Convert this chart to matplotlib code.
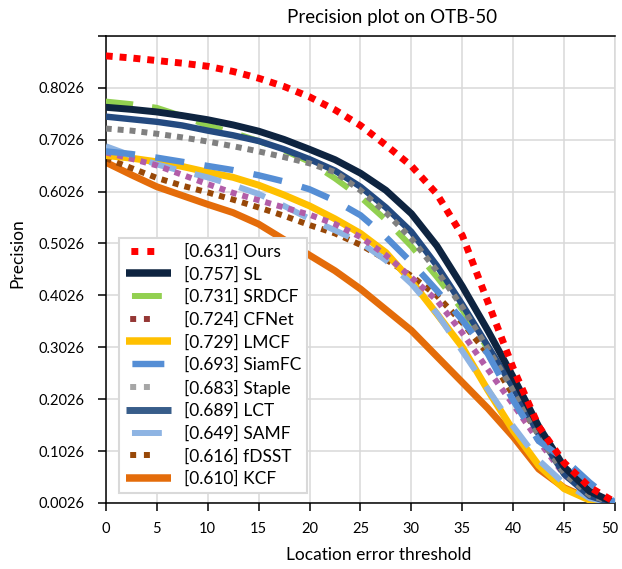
import matplotlib
matplotlib.use("Agg")
import matplotlib.pyplot as plt
from matplotlib.lines import Line2D
from matplotlib.transforms import ScaledTranslation
import numpy as np

plt.rcParams['font.family'] = ['Lato', 'DejaVu Sans']

# location error threshold
thresholds = [0, 2.5, 5, 7.5, 10, 12.5, 15, 17.5, 20, 22.5, 25,
              27.5, 30, 32.5, 35, 37.5, 40, 42.5, 45, 47.5, 50]

# precision values
ours   = [0.864, 0.860, 0.855, 0.850, 0.844, 0.834, 0.821, 0.805, 0.785, 0.760, 0.730,
          0.692, 0.652, 0.598, 0.518, 0.390, 0.262, 0.150, 0.080, 0.033, 0.004]
sl     = [0.765, 0.761, 0.756, 0.749, 0.741, 0.731, 0.719, 0.703, 0.684, 0.664, 0.638,
          0.605, 0.560, 0.498, 0.420, 0.335, 0.245, 0.150, 0.072, 0.025, 0.002]
srdcf  = [0.776, 0.771, 0.764, 0.748, 0.730, 0.716, 0.700, 0.682, 0.660, 0.628, 0.592,
          0.548, 0.497, 0.438, 0.375, 0.300, 0.225, 0.140, 0.065, 0.022, 0.002]
cfnet  = [0.678, 0.666, 0.653, 0.635, 0.617, 0.600, 0.586, 0.572, 0.558, 0.540, 0.515,
          0.480, 0.437, 0.393, 0.330, 0.260, 0.192, 0.122, 0.057, 0.018, 0.001]
lmcf   = [0.672, 0.667, 0.660, 0.651, 0.640, 0.630, 0.615, 0.596, 0.575, 0.550, 0.522,
          0.485, 0.430, 0.367, 0.303, 0.220, 0.142, 0.075, 0.030, 0.008, 0.001]
siamfc = [0.680, 0.675, 0.668, 0.660, 0.652, 0.644, 0.634, 0.622, 0.607, 0.585, 0.557,
          0.515, 0.466, 0.412, 0.355, 0.290, 0.200, 0.122, 0.087, 0.042, 0.003]
staple = [0.724, 0.720, 0.714, 0.707, 0.699, 0.690, 0.680, 0.669, 0.657, 0.640, 0.605,
          0.562, 0.512, 0.450, 0.380, 0.300, 0.220, 0.132, 0.060, 0.018, 0.001]
lct    = [0.747, 0.742, 0.737, 0.730, 0.720, 0.711, 0.700, 0.684, 0.665, 0.643, 0.612,
          0.572, 0.525, 0.460, 0.385, 0.305, 0.225, 0.135, 0.058, 0.016, 0.001]
samf   = [0.690, 0.672, 0.655, 0.642, 0.630, 0.615, 0.598, 0.575, 0.550, 0.528, 0.505,
          0.470, 0.425, 0.368, 0.295, 0.222, 0.150, 0.085, 0.040, 0.012, 0.001]
fdsst  = [0.667, 0.648, 0.629, 0.614, 0.601, 0.587, 0.572, 0.556, 0.538, 0.522, 0.500,
          0.472, 0.440, 0.402, 0.350, 0.290, 0.210, 0.135, 0.065, 0.022, 0.001]
kcf    = [0.659, 0.635, 0.612, 0.595, 0.578, 0.562, 0.540, 0.510, 0.480, 0.450, 0.415,
          0.375, 0.335, 0.285, 0.235, 0.185, 0.130, 0.068, 0.032, 0.010, 0.001]

names  = ['Ours', 'SL', 'SRDCF', 'CFNet', 'LMCF', 'SiamFC', 'Staple', 'LCT', 'SAMF', 'fDSST', 'KCF']
scores = ['0.631', '0.757', '0.731', '0.724', '0.729', '0.693', '0.683', '0.689', '0.649', '0.616', '0.610']
series = [ours, sl, srdcf, cfnet, lmcf, siamfc, staple, lct, samf, fdsst, kcf]

x_ticks = [0, 5, 10, 15, 20, 25, 30, 35, 40, 45, 50]
y_ticks = [0.0026, 0.1026, 0.2026, 0.3026, 0.4026, 0.5026, 0.6026, 0.7026, 0.8026, 0.9026]

# style per series: plot colour, legend colour, kind, width, z-order
styles = {
    'Ours':   ('#FF0000', '#FF0000', 'dot',   5.0, 12),
    'SL':     ('#0E2440', '#0E2440', 'solid', 5.0, 10),
    'SRDCF':  ('#92D050', '#92D050', 'dash',  4.3, 6),
    'CFNet':  ('#B25DA8', '#953735', 'dot',   4.3, 5),
    'LMCF':   ('#FFC000', '#FFC000', 'solid', 5.0, 3),
    'SiamFC': ('#558ED5', '#558ED5', 'dash',  4.6, 11),
    'Staple': ('#808080', '#A6A6A6', 'dot',   4.3, 9),
    'LCT':    ('#244A80', '#385D8A', 'solid', 4.6, 8),
    'SAMF':   ('#8EB4E3', '#8EB4E3', 'dash',  4.3, 4),
    'fDSST':  ('#984807', '#984807', 'dot',   4.3, 2),
    'KCF':    ('#E46C0A', '#E46C0A', 'solid', 5.0, 1),
}

fig = plt.figure(figsize=(6.22, 5.69), dpi=100)
ax = fig.add_axes([0.170, 0.116, 0.819, 0.821])

handles = []
for name, score, vals in zip(names, scores, series):
    col, lcol, kind, lw, z = styles[name]
    if kind == 'dot':
        ls, lls = (0, (1, 1)), (12.6, (1, 1.3, 1, 10))
    elif kind == 'dash':
        ls, lls = (0, (4.6, 3.2)), (9.0, (5.0, 5.0))
    else:
        ls, lls = '-', '-'
    ax.plot(thresholds, vals, color=col, lw=lw, linestyle=ls,
            dash_capstyle='butt', solid_capstyle='butt', zorder=z)
    hlw = lw + 0.4 if kind == 'solid' else lw
    handles.append(Line2D([], [], color=lcol, lw=hlw, linestyle=lls,
                          dash_capstyle='butt', solid_capstyle='butt',
                          label='[%s] %s' % (score, name)))

ax.set_xlim(0, 50)
ax.set_ylim(0.0026, 0.9026)
ax.set_xticks(x_ticks)
ax.set_yticks(y_ticks)
ax.set_yticklabels(['%.4f' % v for v in y_ticks[:-1]] + [''])
ax.grid(True, color='#D9D9D9', lw=1.1)
ax.set_axisbelow(True)
ax.tick_params(labelsize=10.5, length=6, width=1.1, color='black', pad=9)
ax.tick_params(axis='x', pad=8)

# last x label sits against the figure edge, nudge it inwards a little
last = ax.get_xticklabels()[-1]
last.set_transform(last.get_transform() + ScaledTranslation(-5 / 100, 0, fig.dpi_scale_trans))

for s in ['left', 'bottom', 'top']:
    ax.spines[s].set_color('black')
    ax.spines[s].set_linewidth(1.1)
ax.spines['right'].set_color('#D9D9D9')
ax.spines['right'].set_linewidth(1.1)

ax.set_title('Precision plot on OTB-50', fontsize=13.5, x=0.562, pad=9)
ax.set_xlabel('Location error threshold', fontsize=12.5, labelpad=5)
ax.xaxis.set_label_coords(0.536, -0.095)
ax.set_ylabel('Precision', fontsize=12.5)
ax.yaxis.set_label_coords(-0.158, 0.535)

leg = ax.legend(handles=handles, loc='lower left', bbox_to_anchor=(0.027, 0.021),
                borderaxespad=0, fontsize=12.5, handlelength=2.6, handletextpad=0.75,
                borderpad=0.35, labelspacing=0.37, fancybox=False, framealpha=1)
leg.get_frame().set_edgecolor('#D9D9D9')
leg.get_frame().set_linewidth(1.5)
leg.set_zorder(20)

fig.savefig('out.png', dpi=100)
